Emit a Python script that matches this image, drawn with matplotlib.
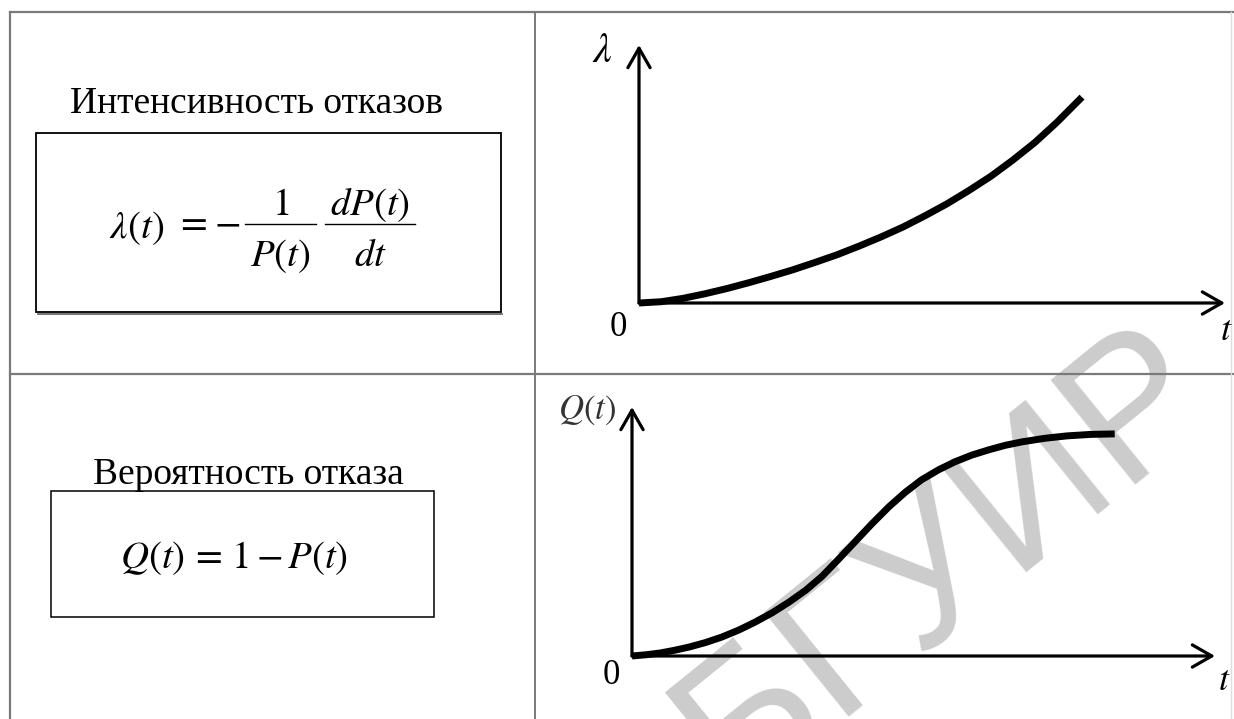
import matplotlib
matplotlib.use('Agg')
import matplotlib.pyplot as plt
from matplotlib.patches import Rectangle

plt.rcParams['mathtext.fontset'] = 'stix'
plt.rcParams['font.family'] = ['Liberation Serif', 'DejaVu Serif']

# ---------------- data (% of axis length) ----------------
lam_t = [0, 3.8, 7.5, 11.3, 15.0, 18.8, 22.5, 26.3, 30.0, 33.8, 37.5, 41.3,
         45.1, 48.8, 52.6, 56.3, 60.1, 63.8, 67.6, 71.3, 75.6]
lam_v = [0, 0.5, 1.8, 3.6, 5.6, 7.9, 10.3, 12.9, 15.7, 18.7, 22.0, 25.6,
         29.5, 33.8, 38.5, 43.6, 49.2, 55.4, 62.3, 70.0, 79.8]

q_t = [0, 2.4, 4.8, 7.3, 9.8, 12.6, 15.4, 18.3, 21.1, 24.0, 26.9, 29.8, 32.6,
       35.4, 38.3, 41.2, 44.1, 46.9, 49.7, 52.6, 55.4, 58.3, 61.2, 64.0, 66.9,
       70.7, 74.6, 78.7, 82.8]
q_v = [0, 0.5, 1.2, 2.3, 3.6, 5.4, 7.6, 10.4, 13.6, 17.3, 21.6, 26.4, 32.0,
       38.8, 46.0, 53.2, 60.0, 65.8, 70.8, 74.8, 78.0, 80.7, 82.8, 84.6, 86.0,
       87.4, 88.4, 89.0, 89.2]

title_top = 'Интенсивность отказов'
title_bottom = 'Вероятность отказа'
f1_lhs = r'$\lambda(t)$'
f1_eq = r'$=$'
f1_minus = r'$-$'
f1_num1, f1_den1 = r'$1$', r'$P(t)$'
f1_num2, f1_den2 = r'$dP(t)$', r'$dt$'
formula_bottom = r'$Q(t)\,{=}\,1\,{-}\,P(t)$'
ylabel_top = r'$\lambda$'
ylabel_bottom = r'$Q(t)$'
xlabel = r'$t$'
origin_label = '0'
watermark = 'БГУИР'

# ---------------- figure ----------------
W, H = 1234, 719
fig = plt.figure(figsize=(W / 100, H / 100), dpi=100)
ax = fig.add_axes([0, 0, 1, 1])
ax.set_xlim(0, W)
ax.set_ylim(H, 0)
ax.axis('off')

# watermark (behind everything)
ax.text(945, 560, watermark, rotation=39, rotation_mode='anchor',
        ha='center', va='center', fontsize=140, color='#cccccc',
        family='Liberation Sans', zorder=0.5)

# table grid
gcol = '#7a7a7a'
ax.plot([10, W], [12, 12], color=gcol, lw=1.6, zorder=2)
ax.plot([10, 10], [12, H], color=gcol, lw=1.6, zorder=2)
ax.plot([535, 535], [12, H], color=gcol, lw=1.4, zorder=2)
ax.plot([10, W], [374, 374], color=gcol, lw=1.6, zorder=2)
ax.plot([1231, 1231], [12, H], color='#dedede', lw=1.0, zorder=2)

# ---- top-left cell ----
ax.text(256, 113, title_top, ha='center', va='baseline', fontsize=27, zorder=3)
ax.add_patch(Rectangle((36, 133), 465, 179, fill=False, ec='black', lw=1.3, zorder=3))
ax.plot([38, 502], [313.5, 313.5], color='#6a6a6a', lw=1.3, zorder=2.9)

fs = 28
ax.text(109, 238, f1_lhs, ha='left', va='baseline', fontsize=fs, zorder=3)
ax.text(191.5, 224, f1_eq, ha='center', va='center', fontsize=fs, zorder=3)
ax.text(227, 224, f1_minus, ha='center', va='center', fontsize=fs, zorder=3)
ax.plot([245, 316], [224, 224], color='black', lw=1.0, zorder=3)
ax.text(280.5, 215, f1_num1, ha='center', va='baseline', fontsize=fs, zorder=3)
ax.text(280.5, 266, f1_den1, ha='center', va='baseline', fontsize=fs, zorder=3)
ax.plot([325, 415], [224, 224], color='black', lw=1.0, zorder=3)
ax.text(370, 215, f1_num2, ha='center', va='baseline', fontsize=fs, zorder=3)
ax.text(370, 266, f1_den2, ha='center', va='baseline', fontsize=fs, zorder=3)

# ---- bottom-left cell ----
ax.text(248, 484, title_bottom, ha='center', va='baseline', fontsize=27, zorder=3)
ax.add_patch(Rectangle((51, 491), 383, 126, fill=False, ec='black', lw=1.1, zorder=3))
ax.text(234, 558, formula_bottom, ha='center', va='center', fontsize=28, zorder=3)


def graph(x0, y0, x1, y1, tt, vv):
    """Axes whose (0,0) is at pixel (x0,y0) and whose arrow tips are (x1,y0),(x0,y1)."""
    a = fig.add_axes([x0 / W, 1 - y0 / H, (x1 - x0) / W, (y0 - y1) / H])
    a.set_xlim(0, 100)
    a.set_ylim(0, 100)
    a.axis('off')
    a.patch.set_alpha(0)
    style = '->,head_length=0.7,head_width=0.4'
    for tip in [(100, 0), (0, 100)]:
        a.annotate('', xy=tip, xytext=(0, 0), xycoords='data',
                   arrowprops=dict(arrowstyle=style, lw=2.3, color='black',
                                   shrinkA=0, shrinkB=0, mutation_scale=20),
                   annotation_clip=False)
    a.plot(tt, vv, color='black', lw=5.0, solid_capstyle='butt',
           solid_joinstyle='round', clip_on=False, zorder=4)
    return a


graph(639, 303, 1225, 45, lam_t, lam_v)
graph(632, 656, 1215, 407, q_t, q_v)

# axis labels
ax.text(602, 52, ylabel_top, ha='center', va='center', fontsize=30, zorder=3)
ax.text(618, 327, origin_label, ha='center', va='center', fontsize=25, zorder=3)
ax.text(1226, 332, xlabel, ha='center', va='center', fontsize=26, zorder=3)

ax.text(587, 410, ylabel_bottom, ha='center', va='center', fontsize=25,
        color='#333333', zorder=3)
ax.text(611, 676, origin_label, ha='center', va='center', fontsize=25, zorder=3)
ax.text(1224, 682, xlabel, ha='center', va='center', fontsize=26, zorder=3)

fig.savefig('out.png', dpi=100, facecolor='white')
